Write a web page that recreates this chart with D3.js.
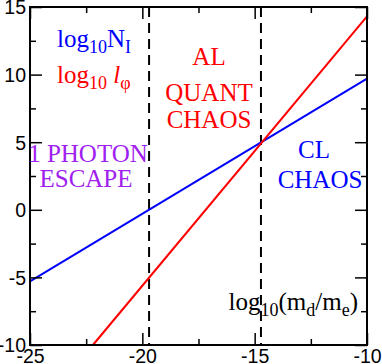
<!DOCTYPE html>
<html>
<head>
<meta charset="utf-8">
<script src="https://cdn.jsdelivr.net/npm/d3@7"></script>
<style>
  body { margin: 0; background: #fff; }
  .tick-label { font-family: "Liberation Sans", Arial, sans-serif; font-size: 19.5px; }
  .note { font-family: "Liberation Serif", "Times New Roman", serif; font-size: 25px; }
</style>
</head>
<body>
<svg id="chart" width="382" height="364"></svg>
<script>
// data
const xDomain = [-25, -10];
const yDomain = [-10, 15];
const xMajor = [-25, -20, -15, -10];
const xMinor = [-22.5, -17.5, -12.5];
const yMajor = [-10, -5, 0, 5, 10, 15];
const yMinor = [-7.5, -2.5, 2.5, 7.5, 12.5];
const blueLine = [[-25, -5.3], [-10, 9.7]];    // log10 N_I
const redLine = [[-22.2, -10], [-10, 14.3]];   // log10 l_phi
const regionBounds = [-19.7, -14.72];

const svg = d3.select('#chart');
const x = d3.scaleLinear().domain(xDomain).range([30, 367]);
const y = d3.scaleLinear().domain(yDomain).range([345, 7]);

const plot = svg.append('g');

// dashed region boundaries
plot.selectAll('.bound').data(regionBounds).enter().append('line')
  .attr('x1', d => x(d)).attr('x2', d => x(d))
  .attr('y1', y(yDomain[1])).attr('y2', y(yDomain[0]))
  .attr('stroke', '#000').attr('stroke-width', 2).attr('stroke-dasharray', '10,6');

const line = d3.line().x(d => x(d[0])).y(d => y(d[1]));
plot.append('path').datum(blueLine).attr('d', line)
  .attr('fill', 'none').attr('stroke', '#0000ff').attr('stroke-width', 2);
plot.append('path').datum(redLine).attr('d', line)
  .attr('fill', 'none').attr('stroke', '#ff0000').attr('stroke-width', 2);

// axes: ticks inward on all four sides
const fmt = d => String(d); // plain hyphen like the original
function addTicks(axisFn, scale, values, len, transform, labels){
  const g = svg.append('g').attr('transform', transform)
    .call(axisFn(scale).tickValues(values).tickSize(-len).tickSizeOuter(0)
      .tickFormat(labels ? fmt : ''));
  g.select('.domain').remove();
  g.selectAll('.tick line').attr('stroke', '#000').attr('stroke-width', 1.5);
  g.selectAll('.tick text').attr('class', 'tick-label').attr('fill', '#000');
  return g;
}
const xb = addTicks(d3.axisBottom, x, xMajor, 12, 'translate(0,345)', true);
xb.selectAll('.tick text').attr('dy', null).attr('y', 18);
addTicks(d3.axisBottom, x, xMinor, 6, 'translate(0,345)', false);
addTicks(d3.axisTop, x, xMajor, 12, 'translate(0,7)', false);
addTicks(d3.axisTop, x, xMinor, 6, 'translate(0,7)', false);
const yl = addTicks(d3.axisLeft, y, yMajor, 12, 'translate(30,0)', true);
yl.selectAll('.tick text').attr('x', -4).attr('dy', '0.35em');
addTicks(d3.axisLeft, y, yMinor, 6, 'translate(30,0)', false);
addTicks(d3.axisRight, y, yMajor, 12, 'translate(367,0)', false);
addTicks(d3.axisRight, y, yMinor, 6, 'translate(367,0)', false);

// frame
svg.append('rect').attr('x', 30).attr('y', 7).attr('width', 337).attr('height', 338)
  .attr('fill', 'none').attr('stroke', '#000').attr('stroke-width', 2);

// annotations
function rich(xp, yp, parts, color, anchor){
  const t = svg.append('text').attr('class', 'note').attr('x', xp).attr('y', yp)
    .attr('fill', color).attr('text-anchor', anchor || 'start');
  let shift = 0;
  parts.forEach(p => {
    const s = t.append('tspan').text(p.t);
    const want = p.sub ? 6 : 0;
    if (want !== shift) { s.attr('dy', want - shift); shift = want; }
    if (p.sub) s.style('font-size', '18px');
    if (p.it) s.style('font-style', 'italic');
  });
  return t;
}
rich(57, 47, [{t: 'log'}, {t: '10', sub: true}, {t: 'N'}, {t: 'I', sub: true}], '#0000ff');
rich(57, 83, [{t: 'log'}, {t: '10', sub: true}, {t: ' '}, {t: 'l', it: true}, {t: 'φ', sub: true}], '#ff0000');

const centred = [
  {t: 'AL', x: 209, y: 65, c: '#ff0000'},
  {t: 'QUANT', x: 209, y: 101, c: '#ff0000'},
  {t: 'CHAOS', x: 209, y: 128, c: '#ff0000'},
  {t: '1 PHOTON', x: 88, y: 162, c: '#a020f0'},
  {t: 'ESCAPE', x: 86, y: 187, c: '#a020f0'},
  {t: 'CL', x: 314, y: 158, c: '#0000ff'},
  {t: 'CHAOS', x: 320, y: 188, c: '#0000ff'}
];
svg.selectAll('.lab').data(centred).enter().append('text')
  .attr('class', 'note').attr('text-anchor', 'middle')
  .attr('x', d => d.x).attr('y', d => d.y).attr('fill', d => d.c).text(d => d.t);

rich(358, 310, [{t: 'log'}, {t: '10', sub: true}, {t: '(m'}, {t: 'd', sub: true},
  {t: '/m'}, {t: 'e', sub: true}, {t: ')'}], '#000', 'end');
</script>
</body>
</html>
